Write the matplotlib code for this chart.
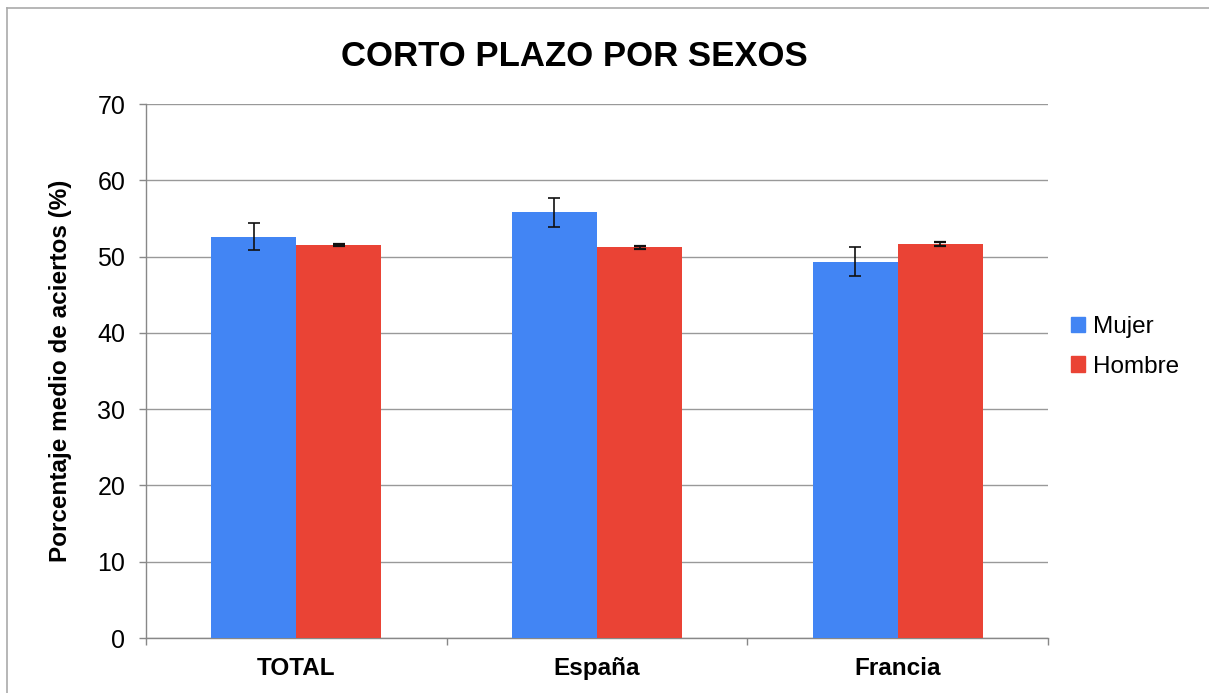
import matplotlib
matplotlib.use("Agg")
import matplotlib.pyplot as plt
from matplotlib.lines import Line2D
import numpy as np

plt.rcParams['font.family'] = ['Liberation Sans', 'DejaVu Sans']

categories = ["TOTAL", "España", "Francia"]
series_names = ["Mujer", "Hombre"]
mujer = [52.6, 55.8, 49.3]
hombre = [51.5, 51.2, 51.7]
mujer_err = [1.8, 1.9, 1.9]
hombre_err = [0.12, 0.2, 0.25]
yticks = [0, 10, 20, 30, 40, 50, 60, 70]

blue = "#4285F4"
red = "#EA4335"

W, H = 1209, 693
fig = plt.figure(figsize=(W / 100, H / 100), dpi=100)
ax = fig.add_axes([146 / W, 1 - 638 / H, (1048 - 146) / W, (638 - 104) / H])

x = np.arange(len(categories))
bw = 0.283
ax.bar(x - bw / 2, mujer, bw, color=blue, label=series_names[0], zorder=3)
ax.bar(x + bw / 2, hombre, bw, color=red, label=series_names[1], zorder=3)
ax.errorbar(x - bw / 2, mujer, yerr=mujer_err, fmt='none', ecolor='#111111',
            elinewidth=1.2, capsize=4.5, capthick=1.2, zorder=4)
ax.errorbar(x + bw / 2, hombre, yerr=hombre_err, fmt='none', ecolor='#111111',
            elinewidth=1.2, capsize=4.5, capthick=1.6, zorder=4)

ax.set_xlim(-0.5, len(categories) - 0.5)
ax.set_ylim(0, 70)
ax.set_yticks(yticks)
ax.set_yticklabels([str(t) for t in yticks], fontsize=18)
ax.yaxis.grid(True, color='#999999', linewidth=1, zorder=0)
ax.set_axisbelow(True)

ax.set_xticks(x)
ax.set_xticklabels(categories, fontsize=17.5, fontweight='bold')
ax.tick_params(axis='x', length=0, pad=14)
ax.set_xticks(np.arange(len(categories) + 1) - 0.5, minor=True)
ax.tick_params(axis='x', which='minor', length=5, color='#888888', width=1)
ax.tick_params(axis='y', length=5, color='#888888', width=1, pad=10, direction='out')

for s in ['top', 'right']:
    ax.spines[s].set_visible(False)
for s in ['left', 'bottom']:
    ax.spines[s].set_color('#888888')
    ax.spines[s].set_linewidth(1)

ax.set_ylabel("Porcentaje medio de aciertos (%)", fontsize=17.5, fontweight='bold', labelpad=18)

fig.text(574 / W, 1 - 57 / H, "CORTO PLAZO POR SEXOS", fontsize=25, fontweight='bold',
         ha='center', va='center')

handles = [plt.Rectangle((0, 0), 1, 1, color=blue), plt.Rectangle((0, 0), 1, 1, color=red)]
fig.legend(handles, series_names, loc='center left', bbox_to_anchor=(1049 / W, 1 - 347 / H),
           frameon=False, fontsize=17.5, handlelength=0.6, handleheight=0.6,
           handletextpad=0.3, labelspacing=0.72)

# figure border (left and top)
fig.add_artist(Line2D([7 / W, 7 / W], [0, 1 - 8 / H], color='#aaaaaa', linewidth=1.2,
                      transform=fig.transFigure))
fig.add_artist(Line2D([7 / W, 1], [1 - 8 / H, 1 - 8 / H], color='#aaaaaa', linewidth=1.2,
                      transform=fig.transFigure))

fig.savefig("out.png", dpi=100)
